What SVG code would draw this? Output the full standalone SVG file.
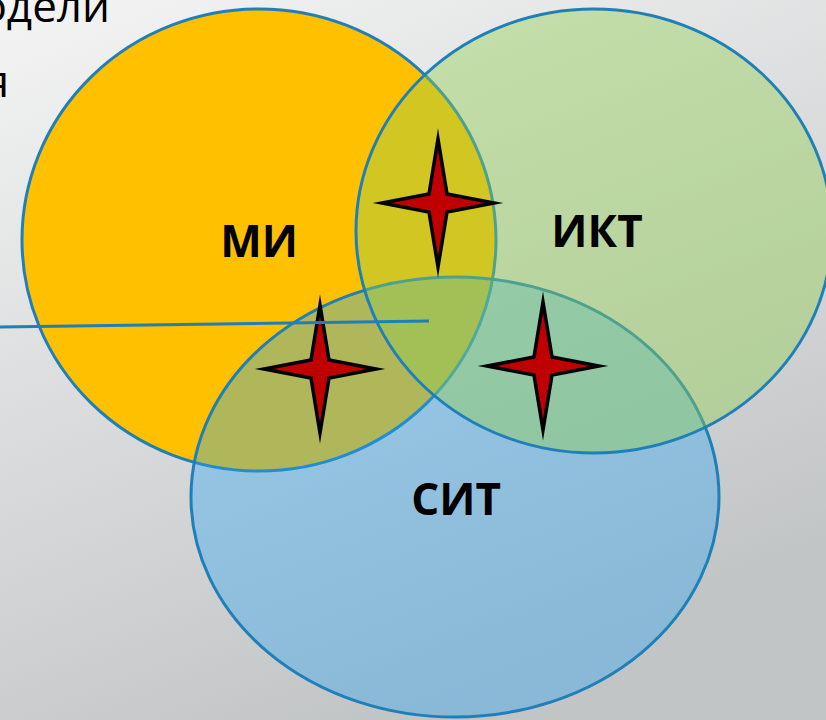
<svg xmlns="http://www.w3.org/2000/svg" width="826" height="720" viewBox="0 0 826 720">
<defs>
<linearGradient id="bg" x1="0" y1="0" x2="0.45" y2="1">
<stop offset="0" stop-color="#f4f4f4"/>
<stop offset="1" stop-color="#c2c5c6"/>
</linearGradient>
<path id="star" d="M0,-64 L9,-9 L56,0 L9,9 L0,64 L-9,9 L-56,0 L-9,-9 Z"/>
</defs>
<style>
.ell{stroke:#1f7fb8;stroke-width:3}
.lbl{font-family:"Open Sans","Liberation Sans",sans-serif;font-weight:bold;font-size:44px;fill:#000;text-anchor:middle}
.txt{font-family:"Open Sans","Liberation Sans",sans-serif;font-size:44px;fill:#000}
.star{fill:#c00000;stroke:#000;stroke-width:3.5;stroke-miterlimit:12;stroke-linejoin:miter}
</style>
<rect width="826" height="720" fill="url(#bg)"/>
<text class="txt" x="110" y="22" text-anchor="end">одели</text>
<text class="txt" x="9" y="97" text-anchor="end">я</text>
<g id="node-mi">
<ellipse class="ell" cx="259" cy="240" rx="237" ry="231" fill="#ffc000"/>
</g>
<g id="node-sit">
<ellipse class="ell" cx="455" cy="497" rx="264" ry="220" fill="#2aa5f3" fill-opacity="0.37"/>
</g>
<g id="node-ikt">
<ellipse class="ell" cx="594" cy="231" rx="238" ry="222" fill="#92d050" fill-opacity="0.42"/>
</g>
<g id="stars">
<use href="#star" class="star" x="438" y="203"/>
<use href="#star" class="star" x="320" y="369"/>
<use href="#star" class="star" x="543" y="366"/>
</g>
<g id="labels">
<text class="lbl" x="259" y="257">МИ</text>
<text class="lbl" x="597" y="247">ИКТ</text>
<text class="lbl" x="456" y="515">СИТ</text>
</g>
<g id="connectors">
<line x1="0" y1="327" x2="429" y2="321" stroke="#1f7fb8" stroke-width="3"/>
</g>
</svg>
